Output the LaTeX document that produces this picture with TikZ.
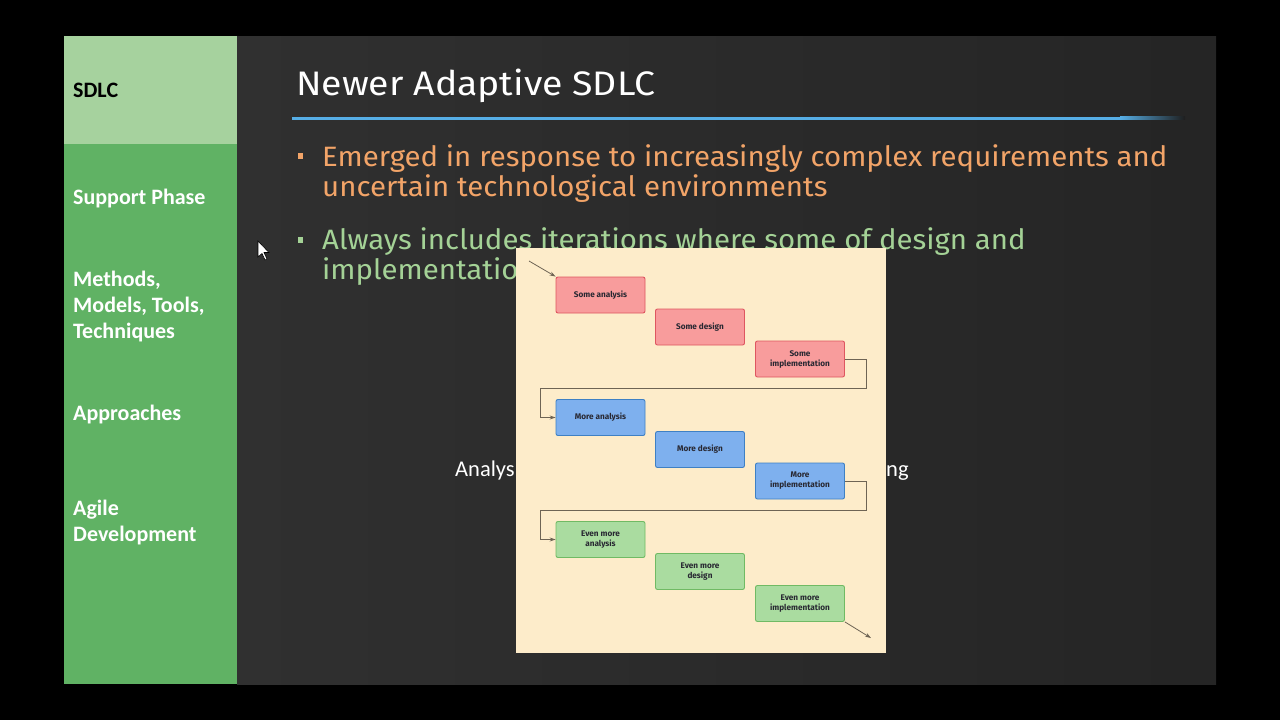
\documentclass[tikz,border=0pt]{standalone}
\usepackage{fontspec}
\setmainfont{Carlito}
\newfontfamily\chalk[FakeStretch=1.05]{Fira Sans}
\newfontfamily\chalktitle[FakeStretch=1.1]{Fira Sans}
\newfontfamily\diag{Fira Sans}
\usetikzlibrary{arrows.meta,calc}
\definecolor{board}{RGB}{30,30,30}
\definecolor{sidegreen}{RGB}{96,178,100}
\definecolor{sidelight}{RGB}{166,210,158}
\definecolor{ulblue}{RGB}{86,174,230}
\definecolor{orangetxt}{RGB}{242,164,104}
\definecolor{greentxt}{RGB}{164,210,150}
\definecolor{panel}{RGB}{253,236,202}
\definecolor{redfill}{RGB}{248,156,156}
\definecolor{redline}{RGB}{222,86,96}
\definecolor{bluefill}{RGB}{126,176,238}
\definecolor{blueline}{RGB}{62,128,196}
\definecolor{greenfill}{RGB}{170,220,160}
\definecolor{greenline}{RGB}{112,186,100}
\definecolor{connc}{RGB}{110,100,84}
\definecolor{boxtxt}{RGB}{40,40,50}
\tikzset{
  side/.style={anchor=base west, font=\bfseries\fontsize{22}{24}\selectfont, text=white, inner sep=0pt},
  chalktxt/.style={anchor=base west, font=\chalk\fontsize{28}{30}\selectfont, inner sep=0pt},
  box/.style={rounded corners=2pt, line width=0.9pt, minimum width=89pt, minimum height=36pt,
    align=center, text=boxtxt, font=\diag\fontsize{8.2}{10}\selectfont\bfseries, inner sep=1pt},
  redbox/.style={box, fill=redfill, draw=redline},
  bluebox/.style={box, fill=bluefill, draw=blueline},
  greenbox/.style={box, fill=greenfill, draw=greenline},
  conn/.style={draw=connc, line width=0.8pt},
  arr/.style={conn, -{Stealth[length=6pt,width=4pt]}},
}
\begin{document}
\begin{tikzpicture}[x=1pt,y=-1pt]
\useasboundingbox (0,0) rectangle (1280,720);
\fill[black] (0,0) rectangle (1280,720);
\shade[left color=board!92!white, right color=board!97!white] (237,36) rectangle (1216,684);
% sidebar
\fill[sidegreen] (64,144) rectangle (237,684);
\fill[sidelight] (64,36) rectangle (237,144);
\node[side, text=black] (s1) at (73,97) {SDLC};
\node[side] (s2) at (73,204) {Support Phase};
\node[side] (s3) at (73,286) {Methods,};
\node[side] (s3b) at (73,312) {Models, Tools,};
\node[side] (s3c) at (73,338) {Techniques};
\node[side] (s4) at (73,420) {Approaches};
\node[side] (s5) at (73,515) {Agile};
\node[side] (s5b) at (73,541) {Development};
% title
\node[anchor=base west, inner sep=0pt, text=white, font=\chalktitle\fontsize{34}{36}\selectfont] (title) at (296,95) {Newer Adaptive SDLC};
\fill[ulblue] (292,116.5) rectangle (1120,119.5);
\shade[left color=ulblue, right color=board] (1120,116.5) rectangle (1185,119.5);
% bullets
\fill[orangetxt] (298,153) rectangle (303,159);
\node[chalktxt, text=orangetxt] (b1a) at (322,166) {Emerged in response to increasingly complex requirements and};
\node[chalktxt, text=orangetxt] (b1b) at (322,196) {uncertain technological environments};
\fill[greentxt] (298,237) rectangle (303,243);
\node[chalktxt, text=greentxt] (b2a) at (322,249) {Always includes iterations where some of design and};
\node[chalktxt, text=greentxt] (b2b) at (322,279) {implementation};
% phases line
\node[anchor=base west, inner sep=0pt, text=white, font=\fontsize{22.5}{24}\selectfont] (an) at (455,476) {Analys};
\node[anchor=base west, inner sep=0pt, text=white, font=\fontsize{22.5}{24}\selectfont] (ng) at (886,476) {ng};
% cursor
\filldraw[fill=white, draw=black, line width=0.6pt] (258,241) -- (258,257) -- (262,253.5) -- (265,260) -- (267,259) -- (264,252.5) -- (269,252.5) -- cycle;
% panel
\fill[panel] (516,248) rectangle (886,653);
\node[redbox] (a1) at (600.5,295) {Some analysis};
\node[redbox] (d1) at (700,327) {Some design};
\node[redbox] (i1) at (800,359) {Some\\implementation};
\node[bluebox] (a2) at (600.5,417.5) {More analysis};
\node[bluebox] (d2) at (700,449.5) {More design};
\node[bluebox] (i2) at (800,481) {More\\implementation};
\node[greenbox] (a3) at (600.5,539.5) {Even more\\analysis};
\node[greenbox] (d3) at (700,571.5) {Even more\\design};
\node[greenbox] (i3) at (800,603.5) {Even more\\implementation};
\coordinate (start) at (529,261);
\coordinate (finish) at (871,638);
\draw[arr] (start) -- (a1.north west);
\draw[arr] (i1.east) -| ($(i1.east)+(21,29)$) -| ($(a2.west)+(-15,0)$) -- (a2.west);
\draw[arr] (i2.east) -| ($(i2.east)+(21,29)$) -| ($(a3.west)+(-15,0)$) -- (a3.west);
\draw[arr] (i3.south east) -- (finish);
\end{tikzpicture}
\end{document}
